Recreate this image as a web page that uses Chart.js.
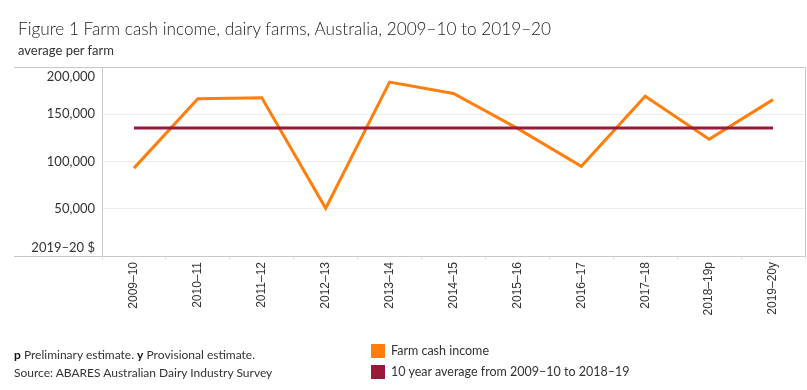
<!DOCTYPE html>
<html>
<head>
<meta charset="utf-8">
<script src="https://cdn.jsdelivr.net/npm/chart.js@4"></script>
<style>
body { margin: 0; background: #fff; font-family: Lato, sans-serif; color: #333; }
#wrap { position: relative; width: 807px; height: 390px; }
canvas { position: absolute; left: 0; top: 0; }
.title { position: absolute; left: 18px; top: 18px; font-size: 17.2px; color: #222; white-space: nowrap; font-weight: 300; }
.sub { position: absolute; left: 18px; top: 42px; font-size: 13px; color: #333; }
.note { position: absolute; left: 14px; font-size: 12px; color: #333; white-space: nowrap; }
.note b { color: #111; }
.leg { position: absolute; left: 371px; font-size: 12.5px; color: #333; white-space: nowrap; }
.leg span { display: inline-block; width: 14px; height: 14px; vertical-align: -3px; margin-right: 6px; }
</style>
</head>
<body>
<div id="wrap">
<canvas id="cashChart" width="807" height="390"></canvas>
<div class="title">Figure 1 Farm cash income, dairy farms, Australia, 2009–10 to 2019–20</div>
<div class="sub">average per farm</div>
<div class="note" style="top:347px"><b>p</b> Preliminary estimate. <b>y</b> Provisional estimate.</div>
<div class="note" style="top:365px">Source: ABARES Australian Dairy Industry Survey</div>
<div class="leg" style="top:343px"><span id="sw0"></span>Farm cash income</div>
<div class="leg" style="top:364px"><span id="sw1"></span>10 year average from 2009–10 to 2018–19</div>
</div>
<script>
const years = ["2009–10","2010–11","2011–12","2012–13","2013–14","2014–15","2015–16","2016–17","2017–18","2018–19p","2019–20y"];
const cashIncome = [93000,166500,167500,50500,184000,172000,135000,95000,169000,123500,165500];
const tenYearAvg = [135500,135500,135500,135500,135500,135500,135500,135500,135500,135500,135500];
const yTicks = [0,50000,100000,150000,200000];
const seriesNames = ["Farm cash income","10 year average from 2009–10 to 2018–19"];
const colors = ["#ff7f0e","#98193a"];

document.getElementById("sw0").style.background = colors[0];
document.getElementById("sw1").style.background = colors[1];

const frameLine = "#c8c8c8";

// frame lines and the shifted end labels of the y axis
const framePlugin = {
  id: "frame",
  afterDraw(chart) {
    const c = chart.ctx, a = chart.chartArea, y = chart.scales.y;
    c.save();
    c.strokeStyle = frameLine;
    c.lineWidth = 1;
    c.beginPath();
    c.moveTo(14, a.top + 0.5); c.lineTo(a.right + 0.5, a.top + 0.5);
    c.lineTo(a.right + 0.5, a.bottom + 0.5); c.lineTo(14, a.bottom + 0.5);
    c.stroke();
    c.fillStyle = "#333";
    c.font = "13px Lato";
    c.textAlign = "right";
    c.textBaseline = "middle";
    c.fillText("200,000", a.left - 7, y.getPixelForValue(yTicks[4]) + 10);
    c.fillText("2019–20 $", a.left - 7, y.getPixelForValue(yTicks[0]) - 8);
    c.restore();
  }
};

new Chart(document.getElementById("cashChart"), {
  type: "line",
  data: {
    labels: years,
    datasets: [{
      label: seriesNames[1],
      data: tenYearAvg,
      borderColor: colors[1],
      borderWidth: 3,
      pointRadius: 0,
      tension: 0
    }, {
      label: seriesNames[0],
      data: cashIncome,
      borderColor: colors[0],
      borderWidth: 3,
      pointRadius: 0,
      tension: 0
    }]
  },
  options: {
    responsive: false,
    animation: false,
    layout: { padding: { left: 14, right: 2, top: 67, bottom: 64 } },
    plugins: { legend: { display: false }, tooltip: { enabled: false } },
    scales: {
      x: {
        offset: true,
        afterFit: s => { s.height = 70; },
        grid: { drawOnChartArea: false, offset: true, tickLength: 4, color: "#e4e4e4" },
        border: { display: false },
        ticks: {
          minRotation: 90, maxRotation: 90, padding: 2,
          color: "#333",
          font: { family: "Liberation Sans", size: 12 }
        }
      },
      y: {
        min: 0, max: 200000,
        afterFit: s => { s.width = 88; },
        afterBuildTicks: s => { s.ticks = yTicks.map(v => ({ value: v })); },
        grid: {
          drawTicks: false,
          color: ctx => (ctx.tick && (ctx.tick.value === 0 || ctx.tick.value === 200000)) ? "rgba(0,0,0,0)" : "#ececec"
        },
        border: { color: frameLine },
        ticks: {
          padding: 7,
          color: "#333",
          font: { family: "Lato", size: 13 },
          callback: v => (v === 0 || v === 200000) ? "" : v.toLocaleString("en-US")
        }
      }
    }
  },
  plugins: [framePlugin]
});
</script>
</body>
</html>
